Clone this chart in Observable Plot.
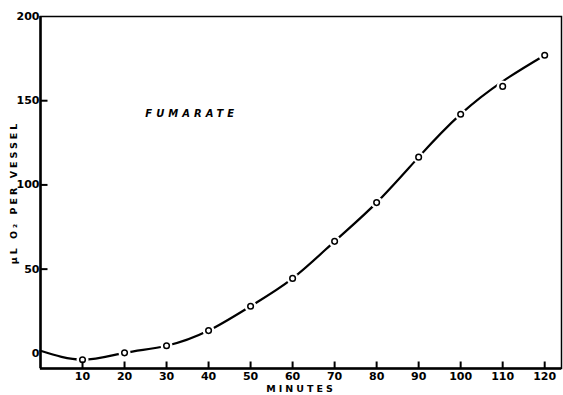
<!DOCTYPE html>
<html><head><meta charset="utf-8">
<script src="https://cdn.jsdelivr.net/npm/d3@7"></script>
<script src="https://cdn.jsdelivr.net/npm/@observablehq/plot@0.6"></script>
<style>
body{margin:0;background:#fff;}
svg{font-family:"DejaVu Sans",sans-serif;}
</style></head>
<body><div id="chart"></div>
<script>
const minutes = [10, 20, 30, 40, 50, 60, 70, 80, 90, 100, 110, 120];
const o2 = [-3.8, 0.3, 4.5, 13.5, 28, 44.5, 66.5, 89.5, 116.5, 142, 158.5, 177];
const curveMinutes = [0, 10, 20, 30, 40, 50, 60, 70, 80, 90, 100, 110, 120];
const curveO2 = [1.5, -3.8, 0.3, 4.5, 13.5, 28, 44.5, 66.5, 89.5, 116.5, 142, 161.5, 177];
const xTicks = [10, 20, 30, 40, 50, 60, 70, 80, 90, 100, 110, 120];
const yTicks = [0, 50, 100, 150, 200];
const yTickMarks = [50, 100, 150];
const curveData = curveMinutes.map((m, i) => ({m, v: curveO2[i]}));
const pts = minutes.map((m, i) => ({m, v: o2[i]}));

const W = 563, H = 395, ML = 40, MR = 2, MT = 16, MB = 27;
const xDom = [0, 124], yDom = [-9, 200];
const tickPx = 7;
const xTickLen = tickPx * (yDom[1] - yDom[0]) / (H - MT - MB);
const yTickLen = tickPx * (xDom[1] - xDom[0]) / (W - ML - MR);
const xTickData = xTicks.map(t => ({x: t, y1: yDom[0], y2: yDom[0] + xTickLen}));
const yTickData = yTickMarks.map(t => ({y: t, x1: xDom[0], x2: xDom[0] + yTickLen}));

const chart = Plot.plot({
  width: W, height: H,
  marginLeft: ML, marginRight: MR, marginTop: MT, marginBottom: MB,
  x: {domain: xDom, label: null},
  y: {domain: yDom, label: null},
  style: {fontFamily: "DejaVu Sans", fontWeight: "bold"},
  marks: [
    Plot.line(curveData, {x: "m", y: "v", curve: "natural", stroke: "black", strokeWidth: 2.2}),
    Plot.dot(pts, {x: "m", y: "v", r: 6, fill: "white", stroke: "none"}),
    Plot.dot(pts, {x: "m", y: "v", r: 2.8, fill: "white", stroke: "black", strokeWidth: 1.5}),
    Plot.frame({stroke: "black", strokeWidth: 1.5}),
    Plot.ruleX([xDom[0]], {stroke: "black", strokeWidth: 2.5}),
    Plot.ruleY([yDom[0]], {stroke: "black", strokeWidth: 2.5}),
    Plot.link(xTickData, {x1: "x", x2: "x", y1: "y1", y2: "y2", stroke: "black", strokeWidth: 2}),
    Plot.link(yTickData, {y1: "y", y2: "y", x1: "x1", x2: "x2", stroke: "black", strokeWidth: 2}),
    Plot.axisX(xTicks, {anchor: "bottom", tickSize: 0, tickPadding: 4, fontSize: 11, fontWeight: "bold", label: null}),
    Plot.axisY(yTicks, {anchor: "left", tickSize: 0, tickPadding: 1, fontSize: 11, fontWeight: "bold", label: null}),
    Plot.text(["MINUTES"], {frameAnchor: "bottom", dy: 23, fontSize: 9.5, fontWeight: "bold", fill: "black"}),
    Plot.text(["μL O₂ PER VESSEL"], {frameAnchor: "left", textAnchor: "middle", dx: -27, dy: 0, rotate: -90, fontSize: 9.5, fontWeight: "bold", fill: "black"}),
    Plot.text(["FUMARATE"], {x: 36, y: 142.5, fontSize: 10, fontWeight: "bold", fontStyle: "italic", fill: "black"})
  ]
});
document.getElementById("chart").appendChild(chart);
chart.querySelectorAll("text").forEach(t => {
  const s = t.textContent;
  if (s === "MINUTES" || s === "μL O₂ PER VESSEL" || s === "FUMARATE") t.setAttribute("letter-spacing", s === "FUMARATE" ? "4" : "3");
});
</script>
</body></html>
